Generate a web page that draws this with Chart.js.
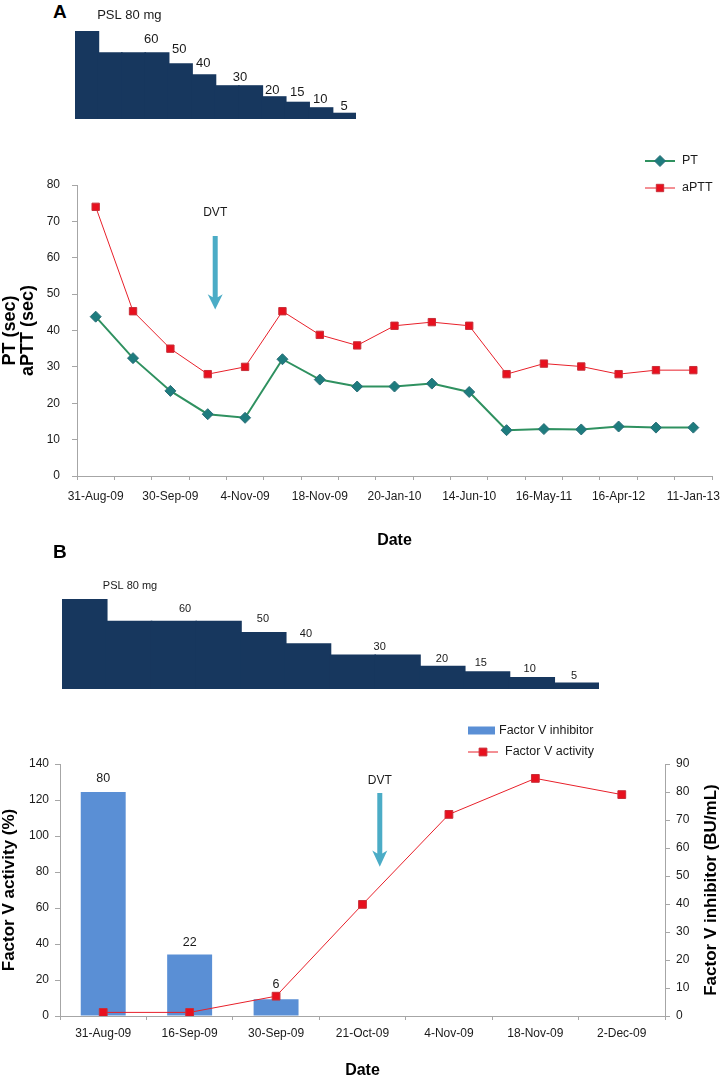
<!DOCTYPE html>
<html><head><meta charset="utf-8">
<script src="https://cdn.jsdelivr.net/npm/chart.js@4.4.1/dist/chart.umd.min.js"></script>
<style>
html,body{margin:0;padding:0;background:#fff;}
body{width:720px;height:1077px;position:relative;overflow:hidden;}
.box{position:absolute;left:0;width:720px;}
.letter{position:absolute;font:bold 19px 'Liberation Sans',Arial,sans-serif;color:#000;line-height:1;}
</style></head><body>
<div class="letter" style="left:53px;top:2px">A</div>
<div class="box" style="top:0;height:125px"><canvas id="stepA"></canvas></div>
<div class="box" style="top:140px;height:420px"><canvas id="chartA"></canvas></div>
<div class="letter" style="left:53px;top:542px">B</div>
<div class="box" style="top:560px;height:140px"><canvas id="stepB"></canvas></div>
<div class="box" style="top:700px;height:377px"><canvas id="chartB"></canvas></div>
<script>
// ---------- data ----------
const doseSteps = ['1','2','3','4','5','6','7','8','9','10','11','12'];
const pslDose = [80, 60, 60, 60, 50, 40, 30, 30, 20, 15, 10, 5];

const ptDates = ['31-Aug-09','','30-Sep-09','','4-Nov-09','','18-Nov-09','','20-Jan-10','','14-Jun-10','','16-May-11','','16-Apr-12','','11-Jan-13'];
const ptValues = [43.8, 32.4, 23.4, 17.0, 16.0, 32.1, 26.5, 24.6, 24.6, 25.4, 23.1, 12.6, 12.9, 12.8, 13.6, 13.3, 13.3];
const apttValues = [74.0, 45.3, 35.0, 28.0, 30.0, 45.3, 38.8, 35.9, 41.3, 42.3, 41.3, 28.0, 30.9, 30.1, 28.0, 29.1, 29.1];

const fvDates = ['31-Aug-09','16-Sep-09','30-Sep-09','21-Oct-09','4-Nov-09','18-Nov-09','2-Dec-09'];
const fvInhibitor = [80, 22, 6, null, null, null, null];
const fvActivity = [2, 2, 11, 62, 112, 132, 123];

// ---------- styles ----------
const NARROW = "'Liberation Sans Narrow','Arial Narrow','Liberation Sans',Arial,sans-serif";
const SANS = "'Liberation Sans',Arial,sans-serif";
Chart.defaults.font.family = NARROW;
Chart.defaults.color = '#1a1a1a';
const AXIS = '#a6a6a6';
const NAVY = '#17375E';

function fracPixel(scale, i) {
  return scale.getPixelForValue(0) + i * (scale.getPixelForValue(1) - scale.getPixelForValue(0));
}

const stepLabels = {
  id: 'stepLabels',
  afterDatasetsDraw(chart, args, o) {
    const {ctx, scales: {x, y}} = chart;
    const data = chart.data.datasets[0].data;
    const runs = [];
    data.forEach((v, i) => { if (i === 0 || data[i - 1] !== v) runs.push(v); });
    ctx.save();
    ctx.font = o.font; ctx.fillStyle = '#1a1a1a';
    ctx.textAlign = 'center'; ctx.textBaseline = 'middle';
    runs.forEach((v, k) => {
      const a = o.anchors[k];
      ctx.fillText(k === 0 ? 'PSL ' + v + ' mg' : String(v), fracPixel(x, a[0]), y.getPixelForValue(v) + a[1]);
    });
    ctx.restore();
  }
};

function drawArrow(ctx, x, top, bottom, headTop, shaftW, headW, color) {
  ctx.save();
  ctx.fillStyle = color;
  ctx.beginPath();
  ctx.moveTo(x - shaftW / 2, top);
  ctx.lineTo(x + shaftW / 2, top);
  ctx.lineTo(x + shaftW / 2, headTop + 3);
  ctx.lineTo(x + headW / 2, headTop);
  ctx.lineTo(x, bottom);
  ctx.lineTo(x - headW / 2, headTop);
  ctx.lineTo(x - shaftW / 2, headTop + 3);
  ctx.closePath();
  ctx.fill();
  ctx.restore();
}

const decor = {
  id: 'decor',
  afterDraw(chart, args, o) {
    const {ctx, chartArea: ca, scales} = chart;
    const x = scales.x, y = scales.y;
    ctx.save();
    // DVT
    const ax = fracPixel(x, o.dvt.index);
    ctx.font = '12px ' + NARROW; ctx.fillStyle = '#1a1a1a';
    ctx.textAlign = 'center'; ctx.textBaseline = 'middle';
    ctx.fillText('DVT', ax, y.getPixelForValue(o.dvt.text));
    drawArrow(ctx, ax, y.getPixelForValue(o.dvt.top), y.getPixelForValue(o.dvt.bottom),
      y.getPixelForValue(o.dvt.headTop), 5, 15, '#4BACC6');
    // axis titles
    ctx.fillStyle = '#000';
    ctx.font = 'bold 16px ' + SANS;
    ctx.fillText('Date', (ca.left + ca.right) / 2, o.dateY);
    const cy = (ca.top + ca.bottom) / 2;
    o.leftTitle.forEach((t) => {
      ctx.save(); ctx.translate(t[1], cy); ctx.rotate(-Math.PI / 2);
      ctx.font = 'bold ' + o.titleSize + 'px ' + SANS; ctx.fillText(t[0], 0, 0); ctx.restore();
    });
    if (o.rightTitle) {
      ctx.save(); ctx.translate(o.rightTitle[1], cy); ctx.rotate(-Math.PI / 2);
      ctx.font = 'bold ' + o.titleSize + 'px ' + SANS; ctx.fillText(o.rightTitle[0], 0, 0); ctx.restore();
    }
    // legend
    ctx.font = '12.5px ' + NARROW; ctx.textAlign = 'left'; ctx.fillStyle = '#1a1a1a';
    o.legend.forEach((it) => {
      const ds = chart.data.datasets[it.ds];
      const ly = it.y;
      if (ds.type === 'bar') {
        ctx.fillStyle = ds.backgroundColor;
        ctx.fillRect(o.legendX, ly - 4, 27, 8);
      } else {
        ctx.strokeStyle = ds.borderColor; ctx.lineWidth = ds.borderWidth;
        ctx.beginPath(); ctx.moveTo(o.legendX, ly); ctx.lineTo(o.legendX + 30, ly); ctx.stroke();
        ctx.fillStyle = ds.pointBackgroundColor; ctx.strokeStyle = ds.pointBorderColor; ctx.lineWidth = 1;
        Chart.helpers.drawPoint(ctx, {pointStyle: ds.pointStyle, radius: ds.pointRadius, borderWidth: 1},
          o.legendX + 15, ly);
      }
      ctx.fillStyle = '#1a1a1a';
      ctx.fillText(ds.label, o.legendX + (ds.type === 'bar' ? 31 : 37), ly);
    });
    ctx.restore();
  }
};

const barValueLabels = {
  id: 'barValueLabels',
  afterDatasetsDraw(chart, args, o) {
    const {ctx} = chart;
    const meta = chart.getDatasetMeta(0);
    ctx.save();
    ctx.font = '12.5px ' + NARROW; ctx.fillStyle = '#1a1a1a';
    ctx.textAlign = 'center'; ctx.textBaseline = 'middle';
    meta.data.forEach((el, i) => {
      const v = chart.data.datasets[0].data[i];
      if (v === null) return;
      ctx.fillText(String(v), el.x, el.y - o.offsets[i]);
    });
    ctx.restore();
  }
};

function stepChart(id, pad, anchors, font) {
  return new Chart(document.getElementById(id), {
    type: 'bar',
    data: {labels: doseSteps, datasets: [{label: 'PSL (mg)', data: pslDose, backgroundColor: NAVY,
      borderWidth: 0, barPercentage: 1, categoryPercentage: 1, inflateAmount: 0.8}]},
    options: {
      animation: false, responsive: true, maintainAspectRatio: false,
      layout: {padding: pad},
      scales: {x: {display: false}, y: {display: false, min: 0, max: 80}},
      plugins: {legend: {display: false}, tooltip: {enabled: false},
        stepLabels: {anchors, font}}
    },
    plugins: [stepLabels]
  });
}

stepChart('stepA', {left: 75, right: 364, top: 31, bottom: 6},
  [[1.82, -16], [2.76, -14], [3.95, -15], [4.98, -12], [6.55, -9], [7.92, -7], [8.99, -10], [9.97, -9], [10.99, -7]],
  '13px ' + SANS);
stepChart('stepB', {left: 62, right: 121, top: 39, bottom: 11},
  [[1.02, -13], [2.25, -13], [3.99, -13.5], [4.95, -10], [6.6, -8], [7.99, -7.5], [8.86, -9], [9.95, -8.5], [10.94, -7]],
  '11px ' + NARROW);

const axisGrid = {drawOnChartArea: false, drawTicks: true, tickLength: 5, color: AXIS};
const fitX = s => { s.height = 30; s.paddingLeft = 0; s.paddingRight = 0; };

new Chart(document.getElementById('chartA'), {
  type: 'line',
  data: {labels: ptDates, datasets: [
    {label: 'PT', data: ptValues, borderColor: '#2F9160', borderWidth: 2, pointStyle: 'rectRot',
      pointRadius: 5.5, pointBackgroundColor: '#1E7C7E', pointBorderColor: '#2B6E78', pointBorderWidth: 1, tension: 0},
    {label: 'aPTT', data: apttValues, borderColor: '#E8202A', borderWidth: 1, pointStyle: 'rect',
      pointRadius: 5.2, pointBackgroundColor: '#E8101E', pointBorderColor: '#C8303A', pointBorderWidth: 1, tension: 0}
  ]},
  options: {
    animation: false, responsive: true, maintainAspectRatio: false,
    layout: {padding: {left: 0, right: 8, top: 45, bottom: 54}},
    scales: {
      x: {offset: true, grid: {...axisGrid, offset: true, tickLength: 4}, border: {color: AXIS},
        ticks: {autoSkip: false, maxRotation: 0, padding: 9, font: {size: 12}},
        afterFit: fitX},
      y: {min: 0, max: 80, grid: axisGrid, border: {color: AXIS},
        ticks: {stepSize: 10, padding: 12, font: {size: 12}},
        afterFit: s => { s.width = 77; }}
    },
    plugins: {legend: {display: false}, tooltip: {enabled: false},
      decor: {dvt: {index: 3.2, text: 72.3, top: 66, bottom: 45.8, headTop: 50},
        dateY: 401, titleSize: 18, leftTitle: [['PT (sec)', 10], ['aPTT (sec)', 28]],
        legendX: 645, legend: [{ds: 0, y: 21}, {ds: 1, y: 48}]}}
  },
  plugins: [decor]
});

new Chart(document.getElementById('chartB'), {
  type: 'bar',
  data: {labels: fvDates, datasets: [
    {type: 'bar', label: 'Factor V inhibitor', data: fvInhibitor, yAxisID: 'y1', backgroundColor: '#5A8FD5',
      borderWidth: 0, barPercentage: 1, categoryPercentage: 0.52, order: 1},
    {type: 'line', label: 'Factor V activity', data: fvActivity, yAxisID: 'y', borderColor: '#E8202A', borderWidth: 1,
      pointStyle: 'rect', pointRadius: 5.5, pointBackgroundColor: '#E8101E', pointBorderColor: '#C8303A',
      pointBorderWidth: 1, tension: 0, order: 0}
  ]},
  options: {
    animation: false, responsive: true, maintainAspectRatio: false,
    layout: {padding: {left: 0, right: 0, top: 64, bottom: 31}},
    scales: {
      x: {grid: {...axisGrid, offset: true, tickLength: 4}, border: {color: AXIS},
        ticks: {autoSkip: false, maxRotation: 0, padding: 6, font: {size: 12}},
        afterFit: fitX},
      y: {position: 'left', min: 0, max: 140, grid: axisGrid, border: {color: AXIS},
        ticks: {stepSize: 20, padding: 6, font: {size: 12}},
        afterFit: s => { s.width = 60; }},
      y1: {position: 'right', min: 0, max: 90, grid: axisGrid, border: {color: AXIS},
        ticks: {stepSize: 10, padding: 6, font: {size: 12}},
        afterFit: s => { s.width = 55; }}
    },
    plugins: {legend: {display: false}, tooltip: {enabled: false},
      barValueLabels: {offsets: [13, 12, 15]},
      decor: {dvt: {index: 3.2, text: 130.7, top: 123.9, bottom: 82.9, headTop: 92},
        dateY: 371, titleSize: 17, leftTitle: [['Factor V activity (%)', 9]], rightTitle: ['Factor V inhibitor (BU/mL)', 711],
        legendX: 468, legend: [{ds: 0, y: 30.5}, {ds: 1, y: 52}]}}
  },
  plugins: [decor, barValueLabels]
});
</script>
</body></html>
